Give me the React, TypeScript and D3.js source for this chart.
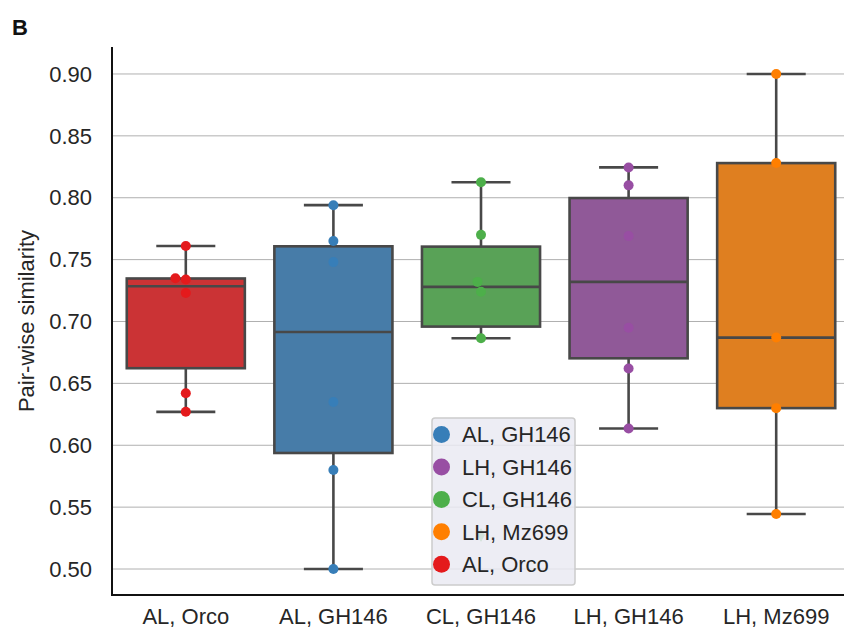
import React from "react";
import * as d3 from "d3";

// categories along the x axis
const categories = ["AL, Orco", "AL, GH146", "CL, GH146", "LH, GH146", "LH, Mz699"];

// pair-wise similarity values per category
const alOrco = [0.761, 0.735, 0.734, 0.723, 0.642, 0.627];
const alGH146 = [0.794, 0.765, 0.748, 0.635, 0.58, 0.5];
const clGH146 = [0.8125, 0.77, 0.732, 0.724, 0.6865, 0.5275];
const lhGH146 = [0.8245, 0.81, 0.769, 0.695, 0.662, 0.6135];
const lhMz699 = [0.9, 0.828, 0.687, 0.63, 0.5445];

const seriesValues = [alOrco, alGH146, clGH146, lhGH146, lhMz699];

// full colour for points, desaturated colour for box fills
const pointColors = ["#e41a1c", "#377eb8", "#4daf4a", "#984ea3", "#ff7f00"];
const boxColors = ["#cb3335", "#477ca8", "#59a257", "#905998", "#df7f20"];

const yTicks = [0.5, 0.55, 0.6, 0.65, 0.7, 0.75, 0.8, 0.85, 0.9];

// legend order as in the figure
const legendLabels = ["AL, GH146", "LH, GH146", "CL, GH146", "LH, Mz699", "AL, Orco"];

const W = 844;
const H = 630;
const margin = { top: 47, right: -6, bottom: 35, left: 112 };
const font = "'Liberation Sans', Arial, Helvetica, sans-serif";
const lineColor = "#484848";
const textColor = "#262626";

function boxStats(values: number[]) {
  const s = [...values].sort(d3.ascending);
  const q1 = d3.quantile(s, 0.25) as number;
  const med = d3.quantile(s, 0.5) as number;
  const q3 = d3.quantile(s, 0.75) as number;
  const iqr = q3 - q1;
  const inside = s.filter((v) => v >= q1 - 1.5 * iqr && v <= q3 + 1.5 * iqr);
  const outliers = s.filter((v) => v < q1 - 1.5 * iqr || v > q3 + 1.5 * iqr);
  return { q1, med, q3, lo: d3.min(inside) as number, hi: d3.max(inside) as number, outliers };
}

// simple beeswarm: place points one by one, nearest free spot to the centre
function swarm(ys: number[], d: number) {
  const placed: { y: number; dx: number }[] = [];
  const order = ys.map((y, i) => ({ y, i })).sort((a, b) => b.y - a.y);
  const out: number[] = new Array(ys.length).fill(0);
  for (const p of order) {
    const cands = [0];
    for (const q of placed) {
      const dy = Math.abs(q.y - p.y);
      if (dy < d) {
        const off = Math.sqrt(d * d - dy * dy);
        cands.push(q.dx - off, q.dx + off);
      }
    }
    cands.sort((a, b) => Math.abs(a) - Math.abs(b) || a - b);
    const ok = cands.find((c) =>
      placed.every((q) => Math.hypot(q.dx - c, q.y - p.y) >= d - 1e-6)
    ) ?? 0;
    placed.push({ y: p.y, dx: ok });
    out[p.i] = ok;
  }
  return out;
}

export default function App() {
  const x = d3
    .scaleBand()
    .domain(categories)
    .range([margin.left, W - margin.right])
    .padding(0);
  const y = d3.scaleLinear().domain([0.479, 0.9218]).range([H - margin.bottom, margin.top]);

  const bw = x.bandwidth() * 0.8;
  const r = 5;

  return (
    <div style={{ position: "absolute", left: 0, top: 0 }}>
      <svg width={W} height={H} style={{ display: "block", background: "#fff" }}>
        {/* grid */}
        {yTicks.map((t) => (
          <line key={t} x1={margin.left} x2={W} y1={y(t)} y2={y(t)} stroke="#b0b0b0" strokeWidth={1} />
        ))}

        {/* boxes */}
        {categories.map((c, i) => {
          const st = boxStats(seriesValues[i]);
          const cx = (x(c) as number) + x.bandwidth() / 2;
          return (
            <g key={c}>
              <line x1={cx} x2={cx} y1={y(st.q3)} y2={y(st.hi)} stroke={lineColor} strokeWidth={2.6} />
              <line x1={cx} x2={cx} y1={y(st.q1)} y2={y(st.lo)} stroke={lineColor} strokeWidth={2.6} />
              <line x1={cx - bw / 4} x2={cx + bw / 4} y1={y(st.hi)} y2={y(st.hi)} stroke={lineColor} strokeWidth={2.6} />
              <line x1={cx - bw / 4} x2={cx + bw / 4} y1={y(st.lo)} y2={y(st.lo)} stroke={lineColor} strokeWidth={2.6} />
              <rect
                x={cx - bw / 2}
                y={y(st.q3)}
                width={bw}
                height={y(st.q1) - y(st.q3)}
                fill={boxColors[i]}
                stroke={lineColor}
                strokeWidth={2.6}
              />
              <line x1={cx - bw / 2} x2={cx + bw / 2} y1={y(st.med)} y2={y(st.med)} stroke={lineColor} strokeWidth={2.6} />
              {st.outliers.map((o) => (
                <path
                  key={o}
                  d={`M${cx},${y(o) - 7} L${cx + 4},${y(o)} L${cx},${y(o) + 7} L${cx - 4},${y(o)} Z`}
                  fill={pointColors[i]}
                />
              ))}
            </g>
          );
        })}

        {/* swarm points */}
        {categories.map((c, i) => {
          const st = boxStats(seriesValues[i]);
          const cx = (x(c) as number) + x.bandwidth() / 2;
          const vals = seriesValues[i].filter((v) => !st.outliers.includes(v));
          const offs = swarm(vals.map((v) => y(v)), 2 * r + 0.5);
          return (
            <g key={c + "-pts"}>
              {vals.map((v, j) => (
                <circle key={j} cx={cx + offs[j]} cy={y(v)} r={r} fill={pointColors[i]} />
              ))}
            </g>
          );
        })}

        {/* spines */}
        <line x1={margin.left} x2={margin.left} y1={margin.top} y2={H - margin.bottom} stroke="#111" strokeWidth={2} />
        <line x1={margin.left - 1} x2={W} y1={H - margin.bottom} y2={H - margin.bottom} stroke="#111" strokeWidth={2} />

        {/* y tick labels */}
        {yTicks.map((t) => (
          <text
            key={t}
            x={margin.left - 20}
            y={y(t)}
            dy="0.35em"
            textAnchor="end"
            fontFamily={font}
            fontSize={22}
            fill={textColor}
          >
            {d3.format(".2f")(t)}
          </text>
        ))}

        {/* x tick labels */}
        {categories.map((c) => (
          <text
            key={c}
            x={(x(c) as number) + x.bandwidth() / 2}
            y={624}
            textAnchor="middle"
            fontFamily={font}
            fontSize={22}
            fill={textColor}
          >
            {c}
          </text>
        ))}

        {/* y axis label */}
        <text
          transform={`translate(34, ${(margin.top + H - margin.bottom) / 2}) rotate(-90)`}
          textAnchor="middle"
          fontFamily={font}
          fontSize={22}
          fill={textColor}
        >
          Pair-wise similarity
        </text>

        {/* panel letter */}
        <text x={12} y={35} fontFamily={font} fontSize={22} fontWeight="bold" fill="#111">
          B
        </text>

        {/* legend */}
        <g>
          <rect x={432} y={418} width={143} height={167} rx={3} fill="#eaeaf2" fillOpacity={0.85} stroke="#cccccc" strokeWidth={1.5} />
          {legendLabels.map((lab, k) => {
            const idx = categories.indexOf(lab);
            const ly = 434.6 + k * 32.4;
            return (
              <g key={lab}>
                <circle cx={441.5} cy={ly} r={8.5} fill={pointColors[idx]} />
                <text x={462} y={ly} dy="0.35em" fontFamily={font} fontSize={22} fill={textColor}>
                  {lab}
                </text>
              </g>
            );
          })}
        </g>
      </svg>
    </div>
  );
}
